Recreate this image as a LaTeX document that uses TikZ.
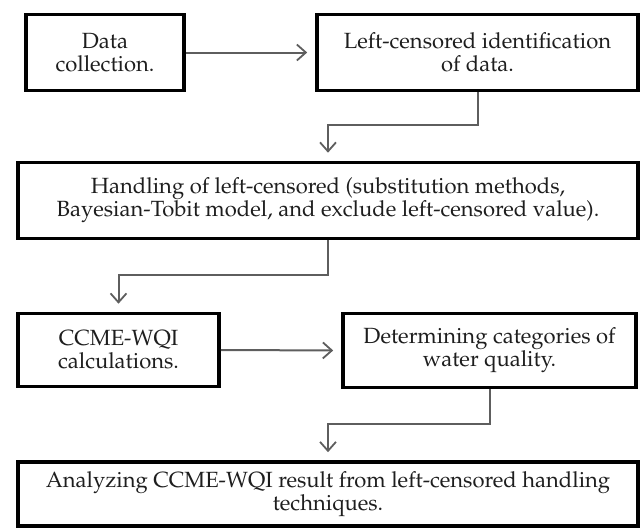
\documentclass[tikz,border=0pt]{standalone}
\usepackage[T1]{fontenc}
\usepackage{mathpazo}
\usepackage{tikz}
\usepackage{xcolor}
\usetikzlibrary{arrows.meta, positioning}

\definecolor{txtgray}{HTML}{1E1E1E}
\definecolor{linegray}{HTML}{5E5E5E}

\begin{document}
\begin{tikzpicture}[x=1pt, y=-1pt,
        box/.style={draw=black, line width=3.6pt, fill=white, inner sep=0pt,
            align=center, text=txtgray, font=\fontsize{22}{23}\selectfont},
        conn/.style={draw=linegray, line width=2pt, shorten >=8pt,
            -{Straight Barb[length=9pt, width=16pt, line width=1.8pt]}}]
        \useasboundingbox (0, 0) rectangle (642, 530);
        % boxes
        \node[box, minimum width=158pt, minimum height=76pt] (data) at (105, 52.5) {Data\\collection.};
        \node[box, minimum width=321pt, minimum height=76pt] (ident) at (477.5, 52.5) {Left-censored identification\\of data.};
        \node[box, minimum width=620pt, minimum height=76pt] (handle) at (328, 200.5) {Handling of left-censored (substitution methods,\\Bayesian-Tobit model, and exclude left-censored value).};
        \node[box, minimum width=201pt, minimum height=73pt] (ccme) at (118.5, 350) {CCME-WQI\\calculations.};
        \node[box, minimum width=293pt, minimum height=74pt] (categ) at (489.5, 350.5) {Determining categories of\\water quality.};
        \node[box, minimum width=620pt, minimum height=64pt] (result) at (328, 494) {Analyzing CCME-WQI result from left-censored handling\\techniques.};
        % connectors
        \draw[conn] (data.east) -- (ident.west);
        \draw[conn] (ident.south) -- ++(0, 33) -| (handle.north);
        \draw[conn] (handle.south) -- ++(0, 35) -| (ccme.north);
        \draw[conn] (ccme.east) -- (categ.west);
        \draw[conn] (categ.south) -- ++(0, 35) -| (result.north);
    \end{tikzpicture}
\end{document}
